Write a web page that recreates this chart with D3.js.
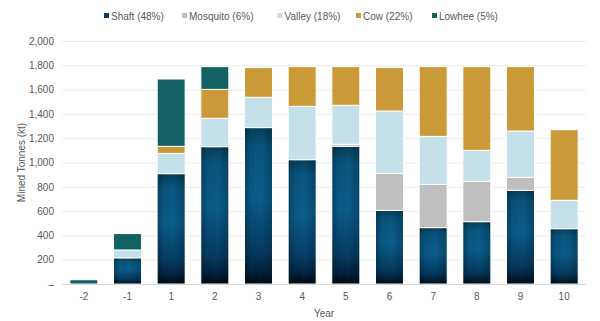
<!DOCTYPE html>
<html><head><meta charset="utf-8">
<script src="https://cdn.jsdelivr.net/npm/d3@7"></script>
<style>body{margin:0;background:#fff}svg{display:block}text{font-family:"Liberation Sans",Arial,sans-serif}</style>
</head><body>
<svg id="c" width="600" height="321"></svg>
<script>
const years = ["-2","-1","1","2","3","4","5","6","7","8","9","10"];
const shaft    = [0, 215, 908, 1130, 1287, 1023, 1133, 606, 464, 513, 771, 455];
const mosquito = [0, 0, 0, 0, 0, 0, 17, 305, 356, 332, 107, 0];
const valley   = [0, 65, 167, 234, 250, 439, 321, 513, 395, 255, 381, 234];
const cow      = [0, 0, 58, 238, 244, 327, 318, 357, 574, 689, 530, 581];
const lowhee   = [35, 135, 554, 187, 0, 0, 0, 0, 0, 0, 0, 0];
const seriesNames = ["Shaft (48%)", "Mosquito (6%)", "Valley (18%)", "Cow (22%)", "Lowhee (5%)"];
const yTicks = [0, 200, 400, 600, 800, 1000, 1200, 1400, 1600, 1800, 2000];

const colors = ["url(#shaftGrad)", "#bfbfbf", "#c4e0e8", "#cb9a38", "#136163"];
const legendColors = ["#0b3d62", "#bfbfbf", "#c4e0e8", "#cb9a38", "#136163"];
const keys = ["shaft","mosquito","valley","cow","lowhee"];
const table = years.map((y,i)=>({year:y, shaft:shaft[i], mosquito:mosquito[i], valley:valley[i], cow:cow[i], lowhee:lowhee[i]}));

const svg = d3.select("#c");
const m = {l:62, r:14, t:41, b:37};
const W = 600, H = 321;
const x = d3.scaleBand().domain(years).range([m.l, W-m.r]).paddingInner(0.36).paddingOuter(0.18);
const y = d3.scaleLinear().domain([0,2000]).range([H-m.b, m.t]);

const defs = svg.append("defs");
const g1 = defs.append("linearGradient").attr("id","shaftGrad").attr("x1",0).attr("y1",0).attr("x2",0).attr("y2",1);
[[0,"#083f58"],[0.12,"#0a5680"],[0.45,"#0b5e8e"],[0.78,"#073e66"],[0.92,"#03213b"],[1,"#010810"]].forEach(s=>g1.append("stop").attr("offset",s[0]).attr("stop-color",s[1]));
const g2 = defs.append("linearGradient").attr("id","shaftShade").attr("x1",0).attr("y1",0).attr("x2",1).attr("y2",0);
[[0,"#000",0.3],[0.2,"#000",0.06],[0.6,"#000",0],[1,"#000",0.22]].forEach(s=>g2.append("stop").attr("offset",s[0]).attr("stop-color",s[1]).attr("stop-opacity",s[2]));
const f = defs.append("filter").attr("id","streak").attr("x",0).attr("y",0).attr("width",1).attr("height",1);
f.append("feTurbulence").attr("type","fractalNoise").attr("baseFrequency","0.6 0.01").attr("numOctaves",2).attr("seed",3).attr("result","n");
f.append("feColorMatrix").attr("in","n").attr("type","matrix")
  .attr("values","0 0 0 0 0  0 0 0 0 0.05  0 0 0 0 0.1  0 0 0 0.7 -0.25");
f.append("feComposite").attr("in2","SourceGraphic").attr("operator","in");

// gridlines
svg.append("g").selectAll("line").data(yTicks.slice(1)).join("line")
  .attr("x1", m.l).attr("x2", W-m.r).attr("y1", d=>y(d)+0.5).attr("y2", d=>y(d)+0.5)
  .attr("stroke","#ececec").attr("stroke-width",1);

// y axis labels
const yAxis = d3.axisLeft(y).tickValues(yTicks).tickSize(0).tickPadding(0)
  .tickFormat(d=> d===0 ? "–" : d3.format(",")(d));
const ya = svg.append("g").attr("transform",`translate(${54},0)`).call(yAxis);
ya.select(".domain").remove();
ya.selectAll("text").attr("fill","#595959").style("font-size","10px").style("font-family","Liberation Sans, Arial, sans-serif");

// stacked bars
const stack = d3.stack().keys(keys)(table);
const layers = svg.append("g").selectAll("g").data(stack).join("g").attr("fill",(d,i)=>colors[i]);
layers.selectAll("rect").data(d=>d.filter(p=>p[1]-p[0]>0)).join("rect")
  .attr("x", d=>x(d.data.year)).attr("width", x.bandwidth())
  .attr("y", d=>y(d[1])).attr("height", d=>y(d[0])-y(d[1]))
  .attr("stroke","#fff").attr("stroke-width",1);
// shading + streak texture overlay on shaft
const shaftPts = stack[0].filter(p=>p[1]-p[0]>0);
const ov = svg.append("g");
ov.selectAll("rect.sh").data(shaftPts).join("rect").attr("class","sh")
  .attr("x", d=>x(d.data.year)+0.5).attr("width", x.bandwidth()-1)
  .attr("y", d=>y(d[1])+0.5).attr("height", d=>y(d[0])-y(d[1])-1)
  .attr("fill","url(#shaftShade)");
ov.selectAll("rect.st").data(shaftPts).join("rect").attr("class","st")
  .attr("x", d=>x(d.data.year)+0.5).attr("width", x.bandwidth()-1)
  .attr("y", d=>y(d[1])+0.5).attr("height", d=>y(d[0])-y(d[1])-1)
  .attr("fill","#000").attr("filter","url(#streak)").attr("opacity",0.5);

// baseline
svg.append("line").attr("x1",m.l).attr("x2",W-m.r).attr("y1",y(0)+0.5).attr("y2",y(0)+0.5).attr("stroke","#d9d9d9");

// x axis
const xAxis = d3.axisBottom(x).tickSize(0).tickPadding(9);
const xa = svg.append("g").attr("transform",`translate(0,${y(0)})`).call(xAxis);
xa.select(".domain").remove();
xa.selectAll("text").attr("fill","#595959").style("font-size","10px").style("font-family","Liberation Sans, Arial, sans-serif");

// axis titles
svg.append("text").attr("x", (m.l+W-m.r)/2).attr("y", 317).attr("text-anchor","middle")
  .attr("fill","#595959").style("font-size","10px").text("Year");
svg.append("text").attr("transform",`translate(21,${(y(0)+y(2000))/2}) rotate(-90)`).attr("text-anchor","middle")
  .attr("dy","0.35em").attr("fill","#595959").style("font-size","10px").text("Mined Tonnes (kt)");

// legend
const legX = [104, 182, 277.5, 356, 432];
const leg = svg.append("g").selectAll("g").data(seriesNames).join("g")
  .attr("transform",(d,i)=>`translate(${legX[i]},16)`);
leg.append("rect").attr("x",0).attr("y",-3).attr("width",5).attr("height",5).attr("fill",(d,i)=>legendColors[i]);
leg.append("text").attr("x",7).attr("y",0).attr("dy","0.35em").attr("fill","#595959").style("font-size","10px").text(d=>d);
</script>
</body></html>
